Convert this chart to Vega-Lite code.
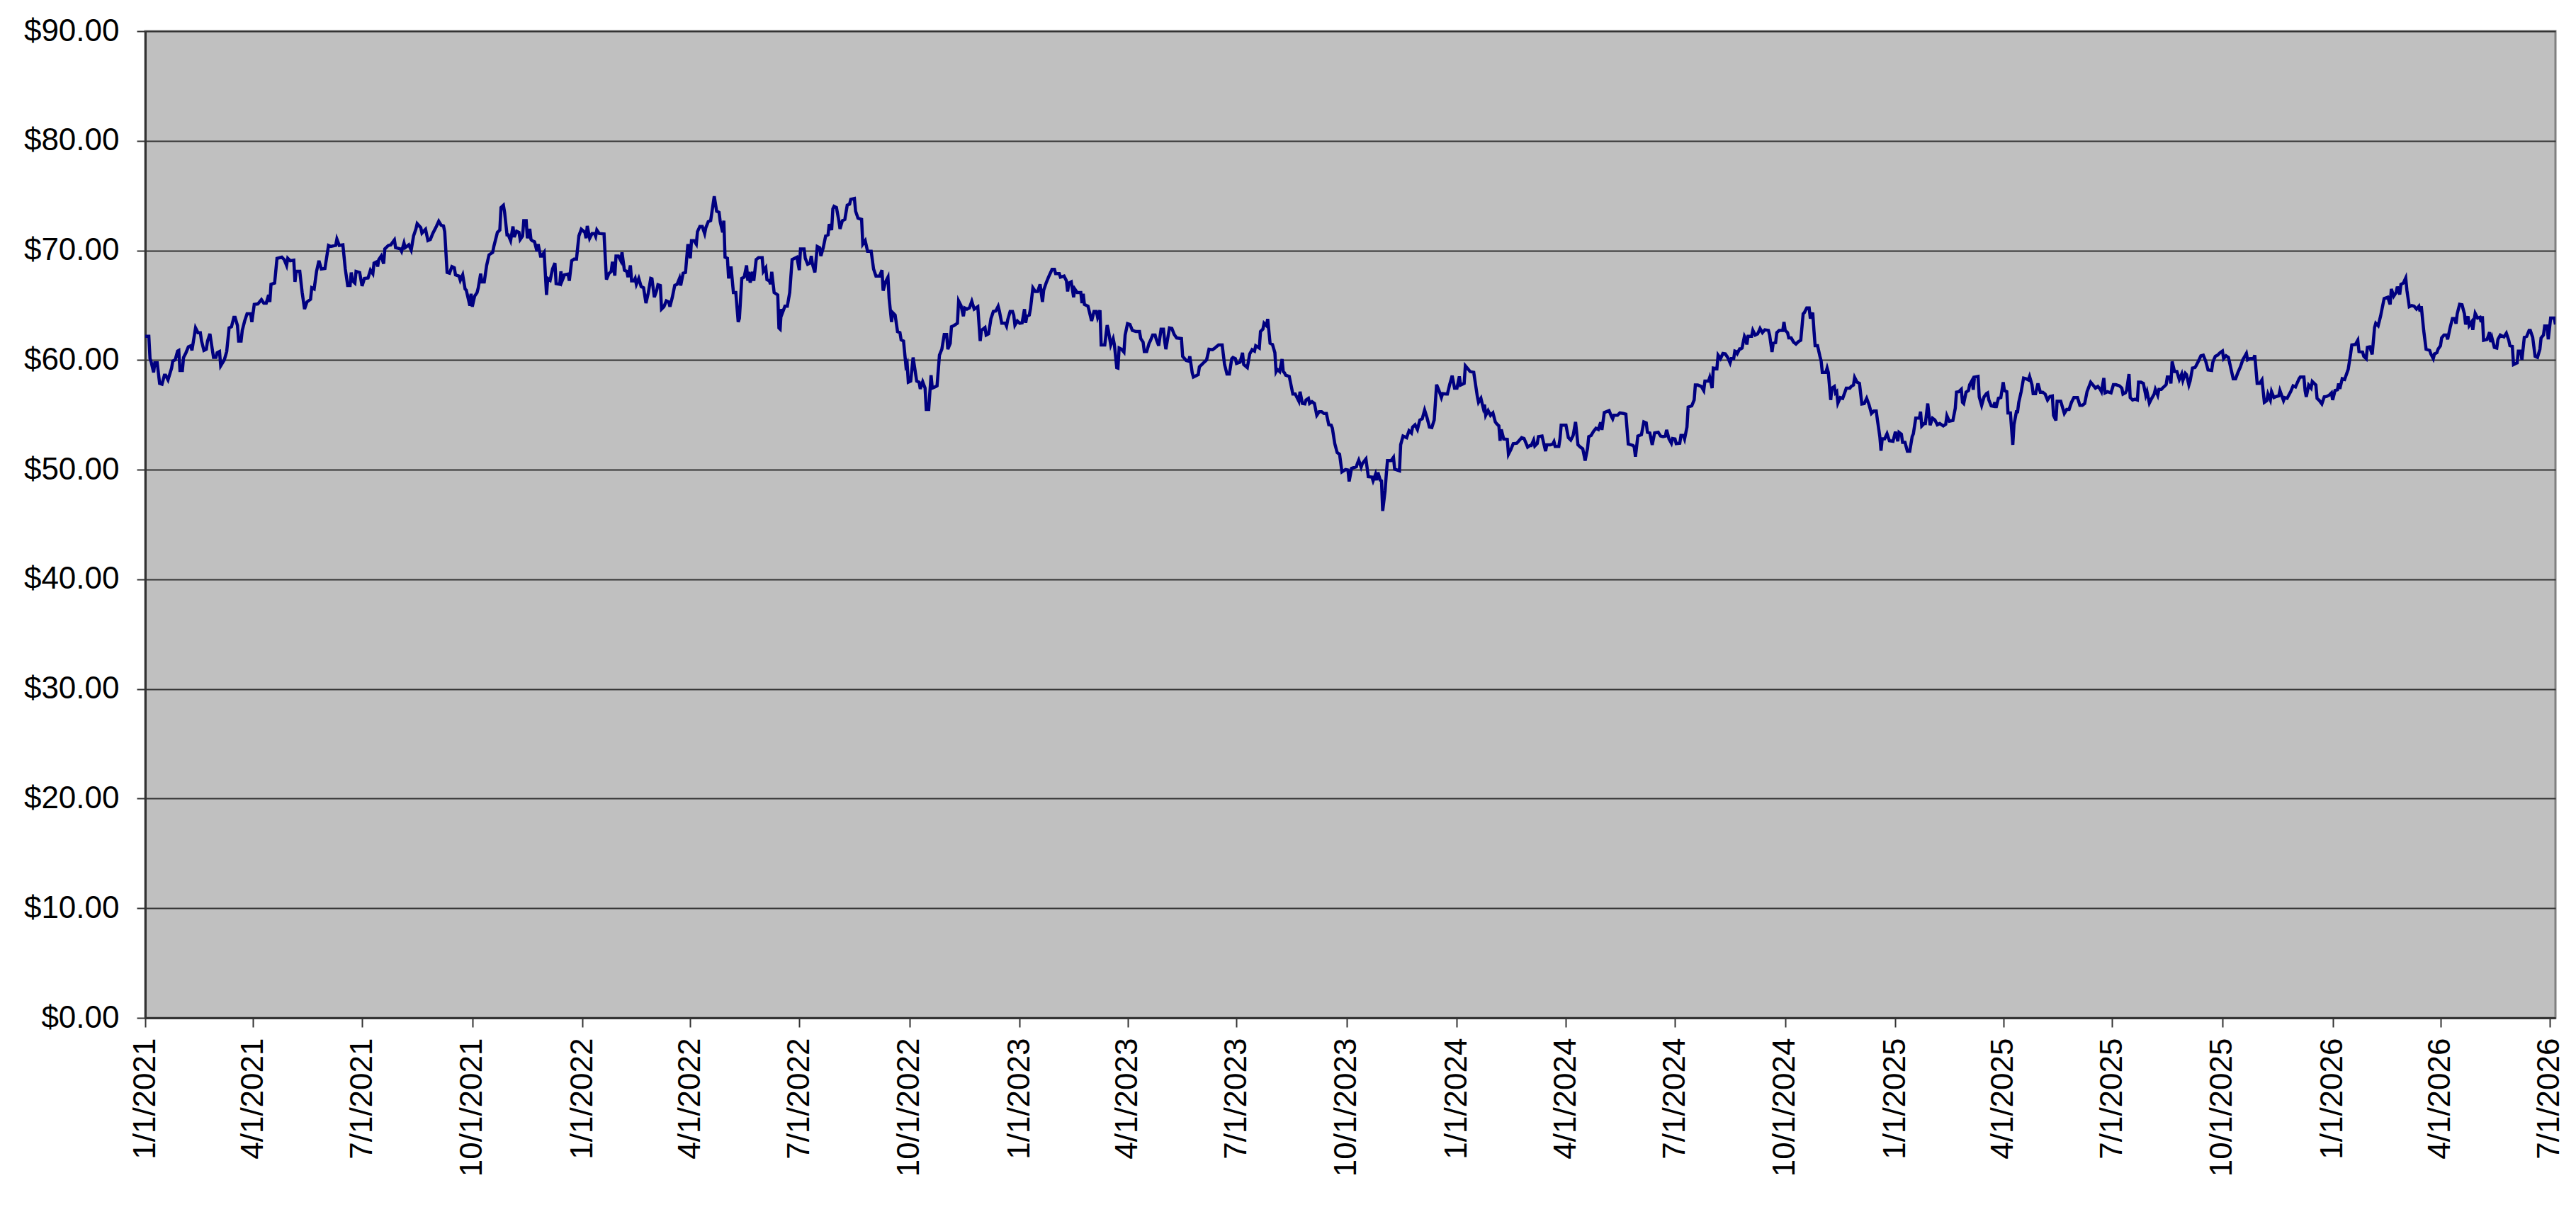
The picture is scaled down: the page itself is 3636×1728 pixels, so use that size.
{
"$schema": "https://vega.github.io/schema/vega-lite/v6.json",
"width": 3402,
"height": 1393,
"autosize": {"type": "none"},
"padding": {"left": 205, "top": 44, "right": 29, "bottom": 291},
"background": "#FFFFFF",
"config": {"view": {"fill": "#C0C0C0", "stroke": "#808080", "strokeWidth": 3}, "font": "Liberation Sans"},
"data": {
"format": {"parse": {"d": "date:'%Y-%j'"}},
"values": [
{"d":"2021-001","p":62.17},{"d":"2021-004","p":62.17},{"d":"2021-005","p":60.13},{"d":"2021-006","p":59.81},{"d":"2021-008","p":58.88},{"d":"2021-009","p":59.74},{"d":"2021-011","p":59.74},{"d":"2021-013","p":57.87},{"d":"2021-015","p":57.8},{"d":"2021-017","p":58.62},{"d":"2021-018","p":58.62},{"d":"2021-020","p":58.19},{"d":"2021-023","p":59.27},{"d":"2021-024","p":59.91},{"d":"2021-026","p":60.02},{"d":"2021-028","p":60.82},{"d":"2021-029","p":60.88},{"d":"2021-030","p":59.05},{"d":"2021-032","p":59.05},{"d":"2021-033","p":60.24},{"d":"2021-035","p":60.67},{"d":"2021-037","p":61.21},{"d":"2021-039","p":61.31},{"d":"2021-040","p":60.88},{"d":"2021-043","p":62.93},{"d":"2021-045","p":62.5},{"d":"2021-047","p":62.5},{"d":"2021-048","p":61.74},{"d":"2021-050","p":60.88},{"d":"2021-052","p":60.99},{"d":"2021-053","p":61.74},{"d":"2021-055","p":62.39},{"d":"2021-058","p":60.24},{"d":"2021-060","p":60.24},{"d":"2021-061","p":60.67},{"d":"2021-063","p":60.78},{"d":"2021-064","p":59.48},{"d":"2021-067","p":60.02},{"d":"2021-069","p":60.78},{"d":"2021-071","p":62.93},{"d":"2021-073","p":63.04},{"d":"2021-075","p":63.9},{"d":"2021-076","p":63.9},{"d":"2021-078","p":63.14},{"d":"2021-079","p":61.74},{"d":"2021-081","p":61.74},{"d":"2021-082","p":62.71},{"d":"2021-084","p":63.57},{"d":"2021-086","p":64.22},{"d":"2021-089","p":64.22},{"d":"2021-090","p":63.47},{"d":"2021-092","p":65.08},{"d":"2021-095","p":65.12},{"d":"2021-098","p":65.51},{"d":"2021-100","p":65.19},{"d":"2021-102","p":65.19},{"d":"2021-104","p":65.94},{"d":"2021-105","p":65.3},{"d":"2021-106","p":66.91},{"d":"2021-109","p":67.02},{"d":"2021-111","p":69.28},{"d":"2021-115","p":69.39},{"d":"2021-117","p":69.17},{"d":"2021-119","p":68.63},{"d":"2021-120","p":69.28},{"d":"2021-122","p":69.06},{"d":"2021-125","p":69.11},{"d":"2021-126","p":67.13},{"d":"2021-127","p":68.09},{"d":"2021-130","p":68.09},{"d":"2021-132","p":66.16},{"d":"2021-134","p":64.65},{"d":"2021-136","p":65.3},{"d":"2021-139","p":65.55},{"d":"2021-140","p":66.59},{"d":"2021-142","p":66.48},{"d":"2021-144","p":68.09},{"d":"2021-146","p":69.06},{"d":"2021-148","p":68.31},{"d":"2021-151","p":68.35},{"d":"2021-154","p":70.46},{"d":"2021-156","p":70.36},{"d":"2021-160","p":70.46},{"d":"2021-161","p":71.04},{"d":"2021-163","p":70.46},{"d":"2021-166","p":70.51},{"d":"2021-168","p":68.31},{"d":"2021-170","p":66.8},{"d":"2021-172","p":66.8},{"d":"2021-173","p":67.99},{"d":"2021-174","p":67.23},{"d":"2021-176","p":67.02},{"d":"2021-177","p":68.09},{"d":"2021-180","p":67.99},{"d":"2021-182","p":66.76},{"d":"2021-184","p":67.45},{"d":"2021-187","p":67.49},{"d":"2021-189","p":68.2},{"d":"2021-191","p":67.88},{"d":"2021-192","p":68.85},{"d":"2021-194","p":68.96},{"d":"2021-195","p":68.53},{"d":"2021-196","p":69.17},{"d":"2021-198","p":69.49},{"d":"2021-200","p":68.78},{"d":"2021-201","p":70.14},{"d":"2021-204","p":70.46},{"d":"2021-206","p":70.51},{"d":"2021-209","p":70.96},{"d":"2021-210","p":70.25},{"d":"2021-214","p":70.14},{"d":"2021-215","p":69.92},{"d":"2021-217","p":70.68},{"d":"2021-218","p":70.25},{"d":"2021-221","p":70.51},{"d":"2021-223","p":70.03},{"d":"2021-225","p":71.32},{"d":"2021-227","p":71.97},{"d":"2021-228","p":72.44},{"d":"2021-231","p":72.08},{"d":"2021-232","p":71.58},{"d":"2021-235","p":71.93},{"d":"2021-237","p":70.9},{"d":"2021-239","p":71.0},{"d":"2021-241","p":71.54},{"d":"2021-244","p":72.19},{"d":"2021-246","p":72.66},{"d":"2021-248","p":72.3},{"d":"2021-250","p":72.23},
{"d":"2021-251","p":71.71},{"d":"2021-253","p":67.99},{"d":"2021-255","p":67.92},{"d":"2021-257","p":68.53},{"d":"2021-259","p":68.42},{"d":"2021-260","p":67.77},{"d":"2021-263","p":67.66},{"d":"2021-264","p":67.28},{"d":"2021-266","p":67.77},{"d":"2021-268","p":66.48},{"d":"2021-269","p":66.37},{"d":"2021-272","p":64.97},{"d":"2021-273","p":66.05},{"d":"2021-274","p":64.87},{"d":"2021-276","p":65.83},{"d":"2021-278","p":66.16},{"d":"2021-279","p":66.59},{"d":"2021-281","p":67.88},{"d":"2021-282","p":67.13},{"d":"2021-284","p":67.13},{"d":"2021-286","p":68.63},{"d":"2021-288","p":69.6},{"d":"2021-291","p":69.82},{"d":"2021-292","p":70.36},{"d":"2021-294","p":71.22},{"d":"2021-295","p":71.65},{"d":"2021-297","p":71.86},{"d":"2021-298","p":73.91},{"d":"2021-300","p":74.12},{"d":"2021-301","p":73.48},{"d":"2021-303","p":71.43},{"d":"2021-304","p":71.43},{"d":"2021-306","p":70.89},{"d":"2021-308","p":72.19},{"d":"2021-309","p":71.22},{"d":"2021-311","p":71.75},{"d":"2021-313","p":71.65},{"d":"2021-314","p":71.0},{"d":"2021-316","p":71.32},{"d":"2021-317","p":72.72},{"d":"2021-319","p":72.72},{"d":"2021-320","p":71.11},{"d":"2021-322","p":71.97},{"d":"2021-323","p":71.0},{"d":"2021-324","p":70.89},{"d":"2021-326","p":70.79},{"d":"2021-328","p":69.92},{"d":"2021-329","p":70.57},{"d":"2021-331","p":69.49},{"d":"2021-332","p":69.49},{"d":"2021-334","p":69.82},{"d":"2021-336","p":65.94},{"d":"2021-337","p":67.45},{"d":"2021-339","p":67.28},{"d":"2021-341","p":68.31},{"d":"2021-343","p":68.85},{"d":"2021-344","p":66.98},{"d":"2021-347","p":66.91},{"d":"2021-348","p":68.09},{"d":"2021-349","p":67.23},{"d":"2021-351","p":67.77},{"d":"2021-354","p":67.84},{"d":"2021-355","p":67.23},{"d":"2021-357","p":69.06},{"d":"2021-359","p":69.21},{"d":"2021-361","p":69.21},{"d":"2021-363","p":71.32},{"d":"2021-365","p":71.93},
{"d":"2022-003","p":71.65},{"d":"2022-004","p":71.11},{"d":"2022-005","p":72.23},{"d":"2022-007","p":71.11},{"d":"2022-009","p":71.54},{"d":"2022-011","p":71.54},{"d":"2022-012","p":71.28},{"d":"2022-013","p":71.86},{"d":"2022-015","p":71.54},{"d":"2022-019","p":71.5},{"d":"2022-021","p":67.34},{"d":"2022-023","p":67.88},{"d":"2022-025","p":68.09},{"d":"2022-026","p":68.96},{"d":"2022-028","p":67.71},{"d":"2022-029","p":69.49},{"d":"2022-031","p":69.49},{"d":"2022-033","p":69.06},{"d":"2022-034","p":69.82},{"d":"2022-036","p":68.2},{"d":"2022-038","p":68.09},{"d":"2022-039","p":67.56},{"d":"2022-041","p":68.63},{"d":"2022-042","p":67.23},{"d":"2022-044","p":67.23},{"d":"2022-045","p":67.45},{"d":"2022-046","p":66.91},{"d":"2022-048","p":67.45},{"d":"2022-050","p":66.7},{"d":"2022-052","p":66.59},{"d":"2022-054","p":65.19},{"d":"2022-056","p":66.16},{"d":"2022-058","p":67.45},{"d":"2022-059","p":67.41},{"d":"2022-061","p":65.73},{"d":"2022-063","p":66.37},{"d":"2022-064","p":66.87},{"d":"2022-066","p":66.8},{"d":"2022-067","p":64.65},{"d":"2022-069","p":64.87},{"d":"2022-071","p":65.4},{"d":"2022-073","p":65.3},{"d":"2022-074","p":64.87},{"d":"2022-076","p":65.73},{"d":"2022-078","p":66.8},{"d":"2022-080","p":66.91},{"d":"2022-082","p":67.45},{"d":"2022-083","p":66.8},{"d":"2022-085","p":67.92},{"d":"2022-087","p":67.99},{"d":"2022-089","p":70.57},{"d":"2022-091","p":69.28},{"d":"2022-092","p":70.89},{"d":"2022-094","p":70.89},{"d":"2022-096","p":70.57},{"d":"2022-097","p":71.71},{"d":"2022-099","p":72.19},{"d":"2022-101","p":72.19},{"d":"2022-103","p":71.54},{"d":"2022-104","p":72.08},{"d":"2022-106","p":72.62},{"d":"2022-108","p":72.72},{"d":"2022-111","p":74.94},{"d":"2022-113","p":73.58},{"d":"2022-115","p":73.48},{"d":"2022-116","p":72.62},{"d":"2022-118","p":71.65},{"d":"2022-119","p":72.72},{"d":"2022-120","p":69.39},{"d":"2022-122","p":69.28},{"d":"2022-123","p":67.45},{"d":"2022-125","p":68.53},{"d":"2022-127","p":66.16},{"d":"2022-129","p":66.16},{"d":"2022-131","p":63.47},{"d":"2022-132","p":63.79},{"d":"2022-134","p":67.45},{"d":"2022-136","p":67.56},
{"d":"2022-138","p":68.63},{"d":"2022-139","p":67.23},{"d":"2022-140","p":68.05},{"d":"2022-141","p":67.06},{"d":"2022-143","p":68.05},{"d":"2022-144","p":67.23},{"d":"2022-146","p":69.17},{"d":"2022-148","p":69.34},{"d":"2022-151","p":69.34},{"d":"2022-152","p":68.09},{"d":"2022-154","p":68.42},{"d":"2022-155","p":67.34},{"d":"2022-157","p":67.23},{"d":"2022-158","p":66.91},{"d":"2022-159","p":68.05},{"d":"2022-161","p":66.16},{"d":"2022-164","p":65.94},{"d":"2022-165","p":62.93},{"d":"2022-166","p":62.82},{"d":"2022-167","p":64.65},{"d":"2022-168","p":64.33},{"d":"2022-170","p":64.91},{"d":"2022-172","p":64.91},{"d":"2022-174","p":66.16},{"d":"2022-176","p":69.17},{"d":"2022-178","p":69.28},{"d":"2022-180","p":69.39},{"d":"2022-182","p":68.2},{"d":"2022-183","p":70.14},{"d":"2022-186","p":70.14},{"d":"2022-187","p":69.28},{"d":"2022-189","p":68.74},{"d":"2022-191","p":68.85},{"d":"2022-192","p":69.49},{"d":"2022-193","p":68.74},{"d":"2022-195","p":67.99},{"d":"2022-197","p":70.36},{"d":"2022-199","p":70.25},{"d":"2022-200","p":69.49},{"d":"2022-202","p":70.25},{"d":"2022-204","p":71.32},{"d":"2022-206","p":71.43},{"d":"2022-207","p":72.4},{"d":"2022-209","p":71.86},{"d":"2022-210","p":73.8},{"d":"2022-211","p":74.02},{"d":"2022-213","p":73.91},{"d":"2022-215","p":72.72},{"d":"2022-216","p":71.97},{"d":"2022-218","p":72.72},{"d":"2022-220","p":72.83},{"d":"2022-222","p":74.12},{"d":"2022-224","p":74.23},{"d":"2022-225","p":74.66},{"d":"2022-228","p":74.73},{"d":"2022-229","p":73.58},{"d":"2022-231","p":72.94},{"d":"2022-234","p":72.83},{"d":"2022-235","p":70.57},{"d":"2022-237","p":70.89},{"d":"2022-239","p":69.92},{"d":"2022-242","p":69.92},{"d":"2022-244","p":68.31},{"d":"2022-246","p":67.66},{"d":"2022-249","p":67.66},{"d":"2022-251","p":68.2},{"d":"2022-252","p":66.33},{"d":"2022-254","p":67.13},{"d":"2022-256","p":67.56},{"d":"2022-257","p":65.62},{"d":"2022-259","p":63.47},{"d":"2022-260","p":64.33},{"d":"2022-262","p":64.11},{"d":"2022-264","p":62.6},{"d":"2022-266","p":62.5},{"d":"2022-267","p":61.85},{"d":"2022-269","p":61.74},{"d":"2022-271","p":59.48},{"d":"2022-272","p":59.7},{"d":"2022-273","p":57.98},{"d":"2022-275","p":58.08},{"d":"2022-277","p":60.24},{"d":"2022-280","p":58.08},{"d":"2022-282","p":57.98},{"d":"2022-283","p":57.37},{"d":"2022-285","p":58.02},{"d":"2022-287","p":57.44},{"d":"2022-288","p":55.5},{"d":"2022-290","p":55.5},{"d":"2022-292","p":58.62},{"d":"2022-293","p":57.44},{"d":"2022-296","p":57.59},{"d":"2022-297","p":57.65},{"d":"2022-299","p":60.45},{"d":"2022-301","p":60.99},{"d":"2022-303","p":62.33},{"d":"2022-305","p":62.33},{"d":"2022-306","p":60.99},{"d":"2022-308","p":61.53},{"d":"2022-309","p":63.04},{"d":"2022-311","p":63.14},{"d":"2022-314","p":63.36},{"d":"2022-315","p":65.4},{"d":"2022-317","p":64.97},{"d":"2022-319","p":64.0},{"d":"2022-320","p":64.76},{"d":"2022-322","p":64.65},{"d":"2022-324","p":64.76},{"d":"2022-326","p":65.36},{"d":"2022-328","p":64.65},{"d":"2022-331","p":64.87},{"d":"2022-333","p":61.74},{"d":"2022-334","p":62.71},{"d":"2022-337","p":62.97},{"d":"2022-338","p":62.28},{"d":"2022-340","p":62.39},{"d":"2022-342","p":63.79},{"d":"2022-344","p":64.43},{"d":"2022-346","p":64.48},{"d":"2022-348","p":64.91},{"d":"2022-349","p":64.48},{"d":"2022-351","p":63.36},{"d":"2022-354","p":63.36},{"d":"2022-355","p":63.1},{"d":"2022-356","p":63.68},{"d":"2022-358","p":64.43},{"d":"2022-360","p":64.43},{"d":"2022-361","p":64.11},{"d":"2022-362","p":63.19},{"d":"2022-364","p":63.57},
{"d":"2023-001","p":63.36},{"d":"2023-003","p":63.4},{"d":"2023-005","p":64.65},{"d":"2023-006","p":63.4},{"d":"2023-007","p":64.0},{"d":"2023-009","p":64.11},{"d":"2023-010","p":64.69},{"d":"2023-012","p":66.59},{"d":"2023-014","p":66.26},{"d":"2023-016","p":66.26},{"d":"2023-018","p":66.91},{"d":"2023-020","p":65.3},{"d":"2023-021","p":66.37},{"d":"2023-023","p":67.02},{"d":"2023-025","p":67.56},
{"d":"2023-028","p":68.27},{"d":"2023-030","p":68.27},{"d":"2023-031","p":67.88},{"d":"2023-034","p":67.88},{"d":"2023-035","p":67.56},{"d":"2023-038","p":67.66},{"d":"2023-040","p":67.23},{"d":"2023-041","p":66.26},{"d":"2023-042","p":67.02},{"d":"2023-044","p":67.13},{"d":"2023-046","p":65.73},{"d":"2023-047","p":66.48},{"d":"2023-049","p":66.16},{"d":"2023-052","p":66.16},{"d":"2023-053","p":65.19},{"d":"2023-054","p":66.05},{"d":"2023-055","p":65.08},{"d":"2023-058","p":64.91},{"d":"2023-061","p":63.57},{"d":"2023-063","p":64.43},{"d":"2023-065","p":64.43},{"d":"2023-066","p":63.9},{"d":"2023-068","p":64.54},{"d":"2023-069","p":61.38},{"d":"2023-072","p":61.38},{"d":"2023-074","p":63.19},{"d":"2023-075","p":62.71},{"d":"2023-077","p":61.38},{"d":"2023-079","p":61.96},{"d":"2023-080","p":61.42},{"d":"2023-082","p":59.31},{"d":"2023-083","p":59.27},{"d":"2023-084","p":61.1},{"d":"2023-086","p":60.99},{"d":"2023-088","p":60.73},{"d":"2023-089","p":62.28},{"d":"2023-091","p":63.32},{"d":"2023-093","p":63.25},{"d":"2023-095","p":62.71},{"d":"2023-098","p":62.6},{"d":"2023-101","p":62.6},{"d":"2023-102","p":61.96},{"d":"2023-104","p":61.64},{"d":"2023-105","p":60.78},{"d":"2023-107","p":60.78},{"d":"2023-109","p":61.53},{"d":"2023-110","p":61.74},{"d":"2023-112","p":62.28},{"d":"2023-114","p":62.28},{"d":"2023-115","p":61.89},{"d":"2023-117","p":61.31},{"d":"2023-119","p":62.82},{"d":"2023-121","p":62.82},{"d":"2023-122","p":61.74},{"d":"2023-123","p":60.99},{"d":"2023-126","p":62.93},{"d":"2023-128","p":62.88},{"d":"2023-130","p":62.33},{"d":"2023-132","p":62.02},{"d":"2023-136","p":61.96},{"d":"2023-137","p":60.34},{"d":"2023-140","p":59.96},{"d":"2023-142","p":59.91},{"d":"2023-143","p":60.34},{"d":"2023-145","p":58.84},{"d":"2023-146","p":58.45},{"d":"2023-149","p":58.62},{"d":"2023-150","p":58.67},{"d":"2023-151","p":59.38},{"d":"2023-153","p":59.59},{"d":"2023-155","p":59.81},{"d":"2023-157","p":60.02},{"d":"2023-159","p":60.99},{"d":"2023-162","p":60.95},{"d":"2023-164","p":61.1},{"d":"2023-165","p":61.21},{"d":"2023-167","p":61.38},{"d":"2023-170","p":61.38},{"d":"2023-172","p":59.59},{"d":"2023-174","p":58.73},{"d":"2023-176","p":58.73},{"d":"2023-178","p":60.13},{"d":"2023-179","p":60.24},{"d":"2023-181","p":60.13},{"d":"2023-182","p":59.7},{"d":"2023-185","p":59.81},{"d":"2023-187","p":60.67},{"d":"2023-188","p":59.59},{"d":"2023-191","p":59.31},{"d":"2023-193","p":60.56},{"d":"2023-195","p":60.95},{"d":"2023-197","p":60.82},{"d":"2023-198","p":61.31},{"d":"2023-201","p":61.1},{"d":"2023-202","p":62.6},{"d":"2023-204","p":62.82},{"d":"2023-205","p":63.36},{"d":"2023-207","p":63.14},{"d":"2023-208","p":63.75},{"d":"2023-210","p":61.53},{"d":"2023-212","p":61.42},{"d":"2023-214","p":60.67},{"d":"2023-215","p":58.95},{"d":"2023-216","p":59.16},{"d":"2023-218","p":58.95},{"d":"2023-220","p":60.09},{"d":"2023-221","p":58.95},{"d":"2023-222","p":58.84},{"d":"2023-223","p":58.62},{"d":"2023-226","p":58.51},{"d":"2023-229","p":56.9},{"d":"2023-231","p":56.9},{"d":"2023-234","p":56.25},{"d":"2023-235","p":57.12},{"d":"2023-237","p":56.04},{"d":"2023-239","p":56.0},{"d":"2023-240","p":56.36},{"d":"2023-242","p":56.51},{"d":"2023-243","p":56.04},{"d":"2023-245","p":56.21},{"d":"2023-247","p":56.04},{"d":"2023-249","p":54.96},{"d":"2023-251","p":55.29},{"d":"2023-253","p":55.29},{"d":"2023-255","p":55.13},{"d":"2023-257","p":55.13},{"d":"2023-259","p":54.1},{"d":"2023-261","p":54.06},{"d":"2023-262","p":53.78},{"d":"2023-264","p":52.38},{"d":"2023-266","p":51.56},{"d":"2023-268","p":51.41},{"d":"2023-270","p":49.8},{"d":"2023-273","p":50.01},{"d":"2023-275","p":49.97},{"d":"2023-276","p":48.93},
{"d":"2023-278","p":50.12},{"d":"2023-282","p":50.27},{"d":"2023-283","p":50.61},{"d":"2023-284","p":50.87},{"d":"2023-286","p":50.23},{"d":"2023-287","p":50.55},{"d":"2023-290","p":50.98},{"d":"2023-292","p":49.36},{"d":"2023-295","p":49.32},{"d":"2023-296","p":48.98},{"d":"2023-298","p":49.58},{"d":"2023-299","p":49.04},{"d":"2023-300","p":49.75},{"d":"2023-302","p":49.04},{"d":"2023-303","p":48.98},{"d":"2023-304","p":46.24},{"d":"2023-306","p":48.07},{"d":"2023-307","p":49.58},{"d":"2023-308","p":50.83},{"d":"2023-311","p":50.83},{"d":"2023-313","p":51.13},{"d":"2023-314","p":50.05},{"d":"2023-318","p":49.9},{"d":"2023-319","p":52.27},{"d":"2023-321","p":53.07},{"d":"2023-324","p":52.92},{"d":"2023-326","p":53.56},{"d":"2023-328","p":53.35},{"d":"2023-329","p":53.89},{"d":"2023-331","p":54.1},{"d":"2023-333","p":53.67},{"d":"2023-335","p":54.53},{"d":"2023-337","p":54.64},{"d":"2023-339","p":55.44},{"d":"2023-341","p":54.75},{"d":"2023-343","p":53.89},{"d":"2023-345","p":53.84},{"d":"2023-347","p":54.53},{"d":"2023-349","p":57.76},{"d":"2023-351","p":57.22},{"d":"2023-353","p":56.58},{"d":"2023-354","p":56.94},{"d":"2023-357","p":56.9},{"d":"2023-358","p":56.9},{"d":"2023-360","p":57.8},{"d":"2023-362","p":58.58},{"d":"2023-364","p":57.44},
{"d":"2024-001","p":57.44},{"d":"2024-003","p":58.51},{"d":"2024-004","p":57.72},{"d":"2024-007","p":57.87},{"d":"2024-008","p":59.48},{"d":"2024-010","p":59.22},{"d":"2024-012","p":58.95},{"d":"2024-015","p":58.88},{"d":"2024-018","p":56.68},{"d":"2024-019","p":56.15},{"d":"2024-021","p":56.51},{"d":"2024-023","p":55.61},{"d":"2024-024","p":55.93},{"d":"2024-025","p":54.96},{"d":"2024-027","p":55.39},{"d":"2024-029","p":54.96},{"d":"2024-031","p":55.18},{"d":"2024-033","p":54.36},{"d":"2024-034","p":54.21},{"d":"2024-036","p":53.99},{"d":"2024-037","p":52.64},{"d":"2024-038","p":53.67},{"d":"2024-040","p":52.81},{"d":"2024-043","p":52.77},{"d":"2024-044","p":51.41},{"d":"2024-046","p":51.84},{"d":"2024-048","p":52.38},{"d":"2024-051","p":52.42},{"d":"2024-055","p":52.92},{"d":"2024-057","p":52.85},{"d":"2024-060","p":52.06},{"d":"2024-062","p":52.21},{"d":"2024-063","p":52.21},{"d":"2024-065","p":52.7},{"d":"2024-066","p":52.16},{"d":"2024-068","p":52.38},{"d":"2024-069","p":53.02},{"d":"2024-072","p":53.07},{"d":"2024-075","p":51.69},{"d":"2024-076","p":52.27},{"d":"2024-079","p":52.27},{"d":"2024-081","p":52.34},{"d":"2024-082","p":52.55},{"d":"2024-083","p":52.12},{"d":"2024-086","p":52.12},{"d":"2024-087","p":52.81},{"d":"2024-088","p":54.06},{"d":"2024-092","p":54.06},{"d":"2024-094","p":52.92},{"d":"2024-096","p":52.7},{"d":"2024-098","p":53.13},{"d":"2024-100","p":54.36},{"d":"2024-102","p":52.27},{"d":"2024-104","p":52.06},{"d":"2024-106","p":51.91},{"d":"2024-108","p":50.83},{"d":"2024-110","p":51.95},{"d":"2024-111","p":53.02},{"d":"2024-113","p":53.13},{"d":"2024-115","p":53.5},{"d":"2024-117","p":53.78},{"d":"2024-119","p":53.67},{"d":"2024-121","p":54.32},{"d":"2024-122","p":53.63},{"d":"2024-124","p":55.22},{"d":"2024-128","p":55.39},{"d":"2024-130","p":54.85},{"d":"2024-131","p":54.64},{"d":"2024-132","p":54.96},{"d":"2024-135","p":54.96},{"d":"2024-137","p":55.18},{"d":"2024-140","p":55.13},{"d":"2024-142","p":55.07},{"d":"2024-144","p":52.34},{"d":"2024-148","p":52.21},{"d":"2024-149","p":52.06},{"d":"2024-150","p":51.19},{"d":"2024-152","p":53.07},{"d":"2024-155","p":53.2},{"d":"2024-157","p":54.36},{"d":"2024-159","p":54.27},{"d":"2024-160","p":53.41},{"d":"2024-162","p":53.35},
{"d":"2024-164","p":52.27},{"d":"2024-166","p":53.35},{"d":"2024-169","p":53.41},{"d":"2024-171","p":53.07},{"d":"2024-173","p":53.02},{"d":"2024-175","p":53.07},{"d":"2024-176","p":53.63},{"d":"2024-178","p":52.81},{"d":"2024-180","p":52.42},{"d":"2024-181","p":52.85},{"d":"2024-183","p":52.81},{"d":"2024-184","p":52.38},{"d":"2024-187","p":52.42},{"d":"2024-188","p":53.13},{"d":"2024-190","p":53.13},{"d":"2024-191","p":52.81},{"d":"2024-193","p":53.89},{"d":"2024-194","p":55.72},{"d":"2024-197","p":55.82},{"d":"2024-199","p":56.36},{"d":"2024-200","p":57.72},{"d":"2024-202","p":57.72},{"d":"2024-205","p":57.59},{"d":"2024-207","p":57.22},{"d":"2024-208","p":58.08},{"d":"2024-211","p":58.08},{"d":"2024-212","p":58.41},{"d":"2024-214","p":57.44},{"d":"2024-215","p":59.27},{"d":"2024-218","p":59.22},{"d":"2024-219","p":60.45},{"d":"2024-221","p":60.13},{"d":"2024-223","p":60.6},{"d":"2024-225","p":60.56},{"d":"2024-227","p":60.24},{"d":"2024-229","p":59.74},{"d":"2024-230","p":60.13},{"d":"2024-232","p":60.13},{"d":"2024-233","p":60.82},{"d":"2024-234","p":60.78},{"d":"2024-235","p":60.6},{"d":"2024-237","p":61.03},{"d":"2024-238","p":61.03},{"d":"2024-239","p":61.1},{"d":"2024-241","p":62.17},{"d":"2024-242","p":61.96},{"d":"2024-243","p":61.42},{"d":"2024-244","p":62.17},{"d":"2024-247","p":62.17},{"d":"2024-248","p":62.71},{"d":"2024-250","p":62.28},{"d":"2024-252","p":62.39},{"d":"2024-254","p":62.88},{"d":"2024-256","p":62.5},{"d":"2024-258","p":62.76},{"d":"2024-261","p":62.71},{"d":"2024-262","p":62.28},{"d":"2024-264","p":60.73},{"d":"2024-265","p":61.53},{"d":"2024-267","p":61.59},{"d":"2024-268","p":62.5},{"d":"2024-270","p":62.71},{"d":"2024-273","p":62.71},{"d":"2024-274","p":63.47},{"d":"2024-275","p":62.71},{"d":"2024-277","p":62.5},{"d":"2024-278","p":62.02},{"d":"2024-280","p":62.02},{"d":"2024-282","p":61.64},{"d":"2024-284","p":61.46},{"d":"2024-286","p":61.68},{"d":"2024-288","p":61.81},{"d":"2024-290","p":64.22},{"d":"2024-291","p":64.33},{"d":"2024-293","p":64.76},{"d":"2024-295","p":64.76},{"d":"2024-296","p":63.79},{"d":"2024-298","p":64.33},{"d":"2024-299","p":62.71},{"d":"2024-300","p":61.31},{"d":"2024-302","p":61.31},{"d":"2024-304","p":60.34},{"d":"2024-305","p":59.91},{"d":"2024-306","p":58.88},{"d":"2024-309","p":58.88},{"d":"2024-310","p":59.27},{"d":"2024-311","p":58.88},{"d":"2024-313","p":56.36},{"d":"2024-314","p":57.44},{"d":"2024-316","p":57.59},{"d":"2024-317","p":57.01},{"d":"2024-318","p":57.12},{"d":"2024-319","p":56.08},{"d":"2024-321","p":56.58},{"d":"2024-323","p":56.51},{"d":"2024-325","p":57.12},{"d":"2024-326","p":57.44},{"d":"2024-329","p":57.44},{"d":"2024-330","p":57.59},{"d":"2024-332","p":57.72},{"d":"2024-333","p":58.41},{"d":"2024-335","p":57.98},{"d":"2024-337","p":57.87},{"d":"2024-339","p":56.0},{"d":"2024-341","p":56.04},{"d":"2024-343","p":56.51},{"d":"2024-345","p":55.93},{"d":"2024-347","p":55.13},{"d":"2024-349","p":55.35},{"d":"2024-351","p":55.35},{"d":"2024-352","p":54.53},{"d":"2024-354","p":53.02},{"d":"2024-355","p":51.73},{"d":"2024-356","p":52.81},{"d":"2024-358","p":52.81},{"d":"2024-360","p":53.28},{"d":"2024-362","p":52.64},{"d":"2024-365","p":52.59},
{"d":"2025-001","p":53.46},{"d":"2025-003","p":52.59},{"d":"2025-004","p":53.41},{"d":"2025-006","p":53.24},{"d":"2025-007","p":52.49},{"d":"2025-009","p":52.49},{"d":"2025-011","p":51.69},{"d":"2025-013","p":51.69},{"d":"2025-015","p":53.02},{"d":"2025-016","p":53.28},{"d":"2025-018","p":54.7},{"d":"2025-021","p":54.7},{"d":"2025-022","p":55.29},{"d":"2025-023","p":53.99},{"d":"2025-025","p":54.21},{"d":"2025-026","p":54.21},{"d":"2025-028","p":56.04},{"d":"2025-030","p":54.06},{"d":"2025-032","p":54.7},{"d":"2025-034","p":54.53},{"d":"2025-036","p":54.1},{"d":"2025-038","p":54.21},{"d":"2025-041","p":53.99},{"d":"2025-043","p":54.14},{"d":"2025-044","p":54.92},{"d":"2025-046","p":54.42},
{"d":"2025-049","p":54.49},{"d":"2025-051","p":55.61},{"d":"2025-052","p":57.07},{"d":"2025-054","p":57.12},{"d":"2025-056","p":57.33},{"d":"2025-057","p":56.15},{"d":"2025-058","p":56.04},{"d":"2025-060","p":57.07},{"d":"2025-062","p":57.22},{"d":"2025-063","p":57.76},{"d":"2025-065","p":58.15},{"d":"2025-066","p":57.29},{"d":"2025-067","p":58.45},{"d":"2025-070","p":58.51},{"d":"2025-071","p":56.64},{"d":"2025-073","p":55.87},{"d":"2025-075","p":56.64},{"d":"2025-077","p":56.94},{"d":"2025-078","p":57.01},{"d":"2025-079","p":56.36},{"d":"2025-081","p":55.82},{"d":"2025-083","p":55.78},{"d":"2025-084","p":56.15},{"d":"2025-085","p":55.65},{"d":"2025-087","p":56.51},{"d":"2025-089","p":56.58},{"d":"2025-091","p":57.98},{"d":"2025-092","p":57.22},{"d":"2025-094","p":57.12},{"d":"2025-095","p":55.18},{"d":"2025-097","p":55.18},{"d":"2025-099","p":52.27},{"d":"2025-100","p":54.1},{"d":"2025-102","p":55.29},{"d":"2025-103","p":55.29},{"d":"2025-104","p":56.15},{"d":"2025-106","p":57.12},{"d":"2025-108","p":58.36},{"d":"2025-110","p":58.3},{"d":"2025-112","p":58.19},{"d":"2025-113","p":58.51},{"d":"2025-115","p":57.76},{"d":"2025-116","p":56.94},{"d":"2025-118","p":56.94},{"d":"2025-120","p":57.87},{"d":"2025-122","p":57.07},{"d":"2025-124","p":57.07},{"d":"2025-126","p":56.9},{"d":"2025-128","p":56.36},{"d":"2025-130","p":56.68},{"d":"2025-132","p":56.73},{"d":"2025-133","p":54.96},{"d":"2025-135","p":54.49},{"d":"2025-136","p":56.25},{"d":"2025-139","p":56.25},{"d":"2025-141","p":55.5},{"d":"2025-142","p":55.13},{"d":"2025-144","p":55.5},{"d":"2025-146","p":55.5},{"d":"2025-148","p":56.15},{"d":"2025-150","p":56.58},{"d":"2025-153","p":56.58},{"d":"2025-155","p":55.87},{"d":"2025-157","p":55.87},{"d":"2025-159","p":56.04},{"d":"2025-161","p":57.12},{"d":"2025-164","p":57.98},{"d":"2025-166","p":57.72},{"d":"2025-168","p":57.44},{"d":"2025-170","p":57.59},{"d":"2025-172","p":57.33},{"d":"2025-173","p":57.12},{"d":"2025-175","p":58.36},{"d":"2025-176","p":57.01},{"d":"2025-178","p":57.12},{"d":"2025-181","p":57.01},{"d":"2025-183","p":57.76},{"d":"2025-185","p":57.76},{"d":"2025-188","p":57.65},{"d":"2025-190","p":57.44},{"d":"2025-191","p":56.9},{"d":"2025-193","p":57.01},{"d":"2025-194","p":57.22},{"d":"2025-196","p":58.73},{"d":"2025-197","p":56.58},{"d":"2025-199","p":56.36},{"d":"2025-201","p":56.43},{"d":"2025-203","p":56.36},{"d":"2025-204","p":57.98},{"d":"2025-206","p":57.98},{"d":"2025-208","p":57.87},{"d":"2025-210","p":56.79},{"d":"2025-211","p":57.12},{"d":"2025-213","p":56.08},{"d":"2025-215","p":56.51},{"d":"2025-217","p":56.9},{"d":"2025-218","p":57.33},{"d":"2025-220","p":56.79},{"d":"2025-221","p":57.33},{"d":"2025-223","p":57.33},{"d":"2025-225","p":57.55},{"d":"2025-227","p":57.76},{"d":"2025-228","p":58.45},{"d":"2025-230","p":58.45},{"d":"2025-231","p":57.87},{"d":"2025-232","p":59.87},{"d":"2025-234","p":58.95},{"d":"2025-236","p":58.95},{"d":"2025-238","p":58.23},{"d":"2025-240","p":58.73},{"d":"2025-241","p":58.15},{"d":"2025-243","p":58.79},{"d":"2025-244","p":58.67},{"d":"2025-246","p":57.72},{"d":"2025-247","p":58.08},{"d":"2025-249","p":59.27},{"d":"2025-251","p":59.31},{"d":"2025-252","p":59.48},{"d":"2025-254","p":59.91},{"d":"2025-256","p":60.39},{"d":"2025-258","p":60.45},{"d":"2025-260","p":59.91},{"d":"2025-262","p":59.1},{"d":"2025-265","p":59.05},{"d":"2025-266","p":59.81},{"d":"2025-268","p":60.34},{"d":"2025-270","p":60.45},{"d":"2025-272","p":60.67},{"d":"2025-274","p":60.82},{"d":"2025-275","p":60.13},{"d":"2025-277","p":60.39},{"d":"2025-279","p":60.24},{"d":"2025-281","p":59.27},{"d":"2025-283","p":58.3},{"d":"2025-285","p":58.3},{"d":"2025-287","p":58.88},{"d":"2025-289","p":59.38},{"d":"2025-291","p":60.02},{"d":"2025-294","p":60.6},{"d":"2025-295","p":60.02},{"d":"2025-297","p":60.13},{"d":"2025-300","p":60.13},
{"d":"2025-301","p":60.45},{"d":"2025-303","p":57.87},{"d":"2025-305","p":57.87},{"d":"2025-307","p":58.19},{"d":"2025-309","p":56.15},{"d":"2025-311","p":56.3},{"d":"2025-312","p":56.9},{"d":"2025-314","p":56.36},{"d":"2025-315","p":57.12},{"d":"2025-317","p":56.58},{"d":"2025-319","p":56.68},{"d":"2025-321","p":56.73},{"d":"2025-322","p":57.22},{"d":"2025-325","p":56.3},{"d":"2025-326","p":56.58},{"d":"2025-328","p":56.51},{"d":"2025-331","p":57.12},{"d":"2025-333","p":57.65},{"d":"2025-335","p":57.55},{"d":"2025-338","p":58.3},{"d":"2025-339","p":58.45},{"d":"2025-342","p":58.45},{"d":"2025-343","p":57.22},{"d":"2025-344","p":56.64},{"d":"2025-346","p":57.72},{"d":"2025-348","p":57.44},{"d":"2025-349","p":58.04},{"d":"2025-352","p":57.72},{"d":"2025-353","p":56.51},{"d":"2025-355","p":56.3},{"d":"2025-357","p":56.0},{"d":"2025-359","p":56.64},{"d":"2025-361","p":56.68},{"d":"2025-363","p":56.79},{"d":"2025-365","p":57.01},
{"d":"2026-001","p":56.36},{"d":"2026-003","p":57.22},{"d":"2026-005","p":57.29},{"d":"2026-006","p":57.87},{"d":"2026-007","p":57.37},{"d":"2026-009","p":58.3},{"d":"2026-011","p":58.23},{"d":"2026-014","p":59.16},{"d":"2026-016","p":60.56},{"d":"2026-017","p":61.38},{"d":"2026-020","p":61.42},{"d":"2026-022","p":61.81},{"d":"2026-023","p":60.78},{"d":"2026-026","p":60.73},{"d":"2026-027","p":60.34},{"d":"2026-029","p":60.13},{"d":"2026-030","p":61.16},{"d":"2026-032","p":61.21},{"d":"2026-034","p":60.52},{"d":"2026-036","p":62.97},{"d":"2026-037","p":63.36},{"d":"2026-039","p":63.14},{"d":"2026-041","p":64.0},{"d":"2026-042","p":64.54},{"d":"2026-044","p":65.62},{"d":"2026-047","p":65.73},{"d":"2026-049","p":65.08},{"d":"2026-050","p":66.48},{"d":"2026-052","p":65.83},{"d":"2026-054","p":66.16},{"d":"2026-055","p":66.7},{"d":"2026-057","p":65.98},{"d":"2026-058","p":66.91},{"d":"2026-060","p":67.02},{"d":"2026-062","p":67.49},{"d":"2026-063","p":66.37},{"d":"2026-065","p":64.87},{"d":"2026-067","p":64.97},{"d":"2026-069","p":64.91},{"d":"2026-071","p":64.65},{"d":"2026-073","p":64.91},{"d":"2026-074","p":64.43},{"d":"2026-075","p":64.91},{"d":"2026-077","p":62.71},{"d":"2026-079","p":60.99},{"d":"2026-082","p":60.88},{"d":"2026-083","p":60.56},{"d":"2026-085","p":60.13},{"d":"2026-086","p":60.56},{"d":"2026-088","p":60.67},{"d":"2026-089","p":60.99},{"d":"2026-091","p":61.31},{"d":"2026-092","p":62.02},{"d":"2026-094","p":62.28},{"d":"2026-096","p":62.28},{"d":"2026-097","p":61.89},{"d":"2026-099","p":62.93},{"d":"2026-101","p":63.79},{"d":"2026-103","p":63.79},{"d":"2026-104","p":63.32},{"d":"2026-105","p":64.22},{"d":"2026-107","p":65.08},{"d":"2026-109","p":65.04},{"d":"2026-111","p":64.22},{"d":"2026-112","p":63.25},{"d":"2026-114","p":64.0},{"d":"2026-115","p":63.14},{"d":"2026-117","p":63.47},{"d":"2026-118","p":62.76},{"d":"2026-119","p":63.57},{"d":"2026-120","p":64.26},{"d":"2026-122","p":63.83},{"d":"2026-124","p":63.9},{"d":"2026-125","p":63.47},{"d":"2026-126","p":64.0},{"d":"2026-127","p":61.81},{"d":"2026-130","p":61.89},{"d":"2026-132","p":62.54},{"d":"2026-133","p":61.64},{"d":"2026-134","p":62.02},{"d":"2026-136","p":61.16},{"d":"2026-138","p":61.1},{"d":"2026-139","p":61.89},{"d":"2026-141","p":62.28},{"d":"2026-144","p":62.11},{"d":"2026-146","p":62.45},{"d":"2026-148","p":61.81},{"d":"2026-149","p":61.31},{"d":"2026-151","p":61.25},{"d":"2026-152","p":59.59},{"d":"2026-154","p":59.7},{"d":"2026-155","p":59.74},{"d":"2026-156","p":60.82},{"d":"2026-158","p":60.82},{"d":"2026-159","p":60.02},{"d":"2026-161","p":62.07},{"d":"2026-163","p":62.17},{"d":"2026-165","p":62.71},{"d":"2026-166","p":62.71},{"d":"2026-168","p":62.07},{"d":"2026-170","p":60.34},{"d":"2026-172","p":60.24},{"d":"2026-174","p":60.99},{"d":"2026-175","p":62.02},{"d":"2026-177","p":62.28},{"d":"2026-178","p":63.1},{"d":"2026-180","p":63.1},{"d":"2026-181","p":61.89},{"d":"2026-183","p":63.83},{"d":"2026-186","p":63.83},{"d":"2026-187","p":63.25}
]
},
"mark": {"type": "line", "color": "#000080", "strokeWidth": 4.5, "clip": true},
"encoding": {
"x": {
"field": "d", "type": "temporal",
"scale": {"domain": [{"year": 2021, "month": 1, "date": 1}, {"year": 2026, "month": 7, "date": 6}]},
"axis": {
"title": null,
"values": [
{"year": 2021, "month": 1, "date": 1}, {"year": 2021, "month": 4, "date": 1}, {"year": 2021, "month": 7, "date": 1}, {"year": 2021, "month": 10, "date": 1},
{"year": 2022, "month": 1, "date": 1}, {"year": 2022, "month": 4, "date": 1}, {"year": 2022, "month": 7, "date": 1}, {"year": 2022, "month": 10, "date": 1},
{"year": 2023, "month": 1, "date": 1}, {"year": 2023, "month": 4, "date": 1}, {"year": 2023, "month": 7, "date": 1}, {"year": 2023, "month": 10, "date": 1},
{"year": 2024, "month": 1, "date": 1}, {"year": 2024, "month": 4, "date": 1}, {"year": 2024, "month": 7, "date": 1}, {"year": 2024, "month": 10, "date": 1},
{"year": 2025, "month": 1, "date": 1}, {"year": 2025, "month": 4, "date": 1}, {"year": 2025, "month": 7, "date": 1}, {"year": 2025, "month": 10, "date": 1},
{"year": 2026, "month": 1, "date": 1}, {"year": 2026, "month": 4, "date": 1}, {"year": 2026, "month": 7, "date": 1}
],
"format": "%-m/%-d/%Y",
"labelAngle": -90,
"labelAlign": "right",
"labelBaseline": "middle",
"labelFontSize": 44,
"labelColor": "#000000",
"labelPadding": 15,
"labelLimit": 1000,
"labelOverlap": false,
"labelFlush": false,
"labelBound": false,
"tickSize": 13,
"tickColor": "#333333",
"tickWidth": 2,
"domainColor": "#333333",
"domainWidth": 3,
"grid": false
}
},
"y": {
"field": "p", "type": "quantitative",
"scale": {"domain": [0, 90], "nice": false},
"axis": {
"title": null,
"values": [0, 10, 20, 30, 40, 50, 60, 70, 80, 90],
"format": "$,.2f",
"labelFontSize": 44,
"labelColor": "#000000",
"labelPadding": 25,
"labelLimit": 1000,
"labelOverlap": false,
"labelFlush": false,
"tickSize": 12,
"tickColor": "#333333",
"tickWidth": 2,
"domainColor": "#333333",
"domainWidth": 3,
"grid": true,
"gridColor": "#333333",
"gridWidth": 2
}
}
}
}
